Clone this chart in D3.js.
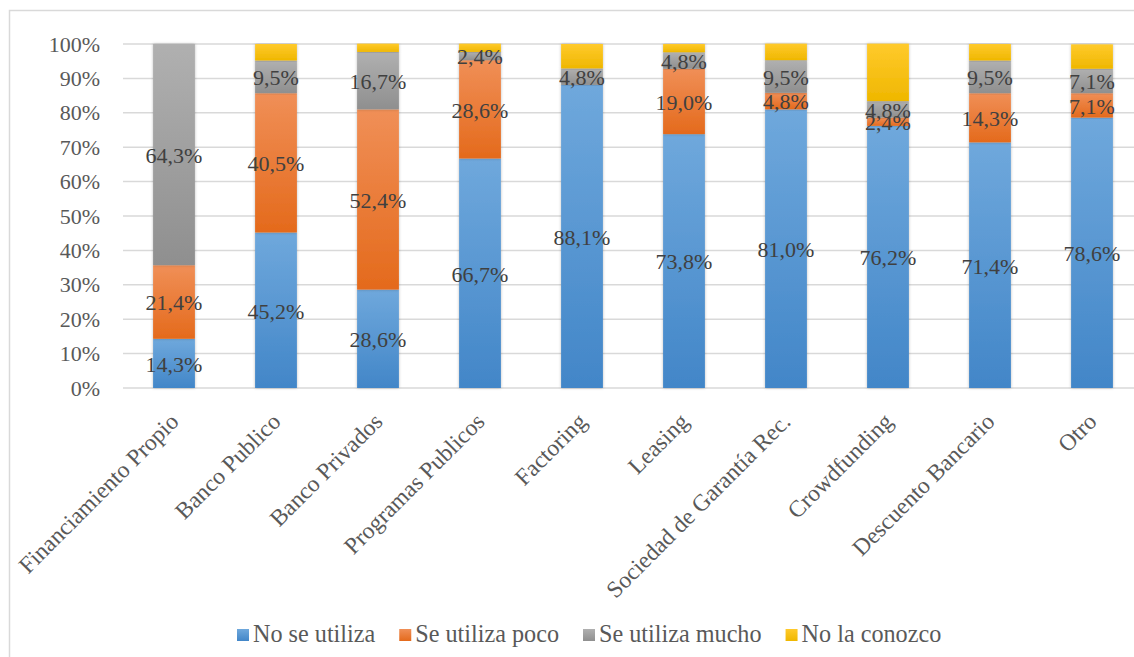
<!DOCTYPE html>
<html>
<head>
<meta charset="utf-8">
<script src="https://cdn.jsdelivr.net/npm/d3@7"></script>
<style>
  body { margin: 0; background: #fff; }
  svg { display: block; font-family: "Liberation Serif", "Times New Roman", serif; }
</style>
</head>
<body>
<div id="chart"></div>
<script>
// categories and series (percentages)
const categories = ['Financiamiento Propio', 'Banco Publico', 'Banco Privados', 'Programas Publicos',
    'Factoring', 'Leasing', 'Sociedad de Garantía Rec.', 'Crowdfunding', 'Descuento Bancario', 'Otro'];
const noSeUtiliza = [14.3, 45.2, 28.6, 66.7, 88.1, 73.8, 81.0, 76.2, 71.4, 78.6];
const seUtilizaPoco = [21.4, 40.5, 52.4, 28.6, 0, 19.0, 4.8, 2.4, 14.3, 7.1];
const seUtilizaMucho = [64.3, 9.5, 16.7, 2.4, 4.8, 4.8, 9.5, 4.8, 9.5, 7.1];
const noLaConozco = [0, 4.8, 2.4, 2.4, 7.1, 2.4, 4.8, 16.7, 4.8, 7.1];
const seriesNames = ['No se utiliza', 'Se utiliza poco', 'Se utiliza mucho', 'No la conozco'];
const yTicks = [0, 10, 20, 30, 40, 50, 60, 70, 80, 90, 100];

const W = 1134, H = 657;
const margin = { left: 123, right: -9, top: 44, bottom: 269 };
const width = W - margin.left - margin.right;
const height = H - margin.top - margin.bottom;

// colours: [top, bottom] of gradient
const colors = [
    ['#6fa8dc', '#4286c8'],
    ['#f08f57', '#e46a1c'],
    ['#b0b0b0', '#8f8f8f'],
    ['#ffca2c', '#efb700']
];
const showLabel = [true, true, true, false];

const table = categories.map((c, i) => ({
    cat: c,
    s0: noSeUtiliza[i], s1: seUtilizaPoco[i], s2: seUtilizaMucho[i], s3: noLaConozco[i]
}));

const svg = d3.select('#chart').append('svg')
    .attr('width', W).attr('height', H);

const defs = svg.append('defs');
colors.forEach((c, i) => {
    const g = defs.append('linearGradient')
        .attr('id', 'grad' + i)
        .attr('x1', 0).attr('y1', 0).attr('x2', 0).attr('y2', 1);
    g.append('stop').attr('offset', '0%').attr('stop-color', c[0]);
    g.append('stop').attr('offset', '100%').attr('stop-color', c[1]);
});
const shadow = defs.append('filter').attr('id', 'shadow')
    .attr('x', '-20%').attr('y', '-5%').attr('width', '140%').attr('height', '110%');
shadow.append('feDropShadow').attr('dx', 0).attr('dy', 0).attr('stdDeviation', 1.5)
    .attr('flood-color', '#000').attr('flood-opacity', 0.25);

// outer frame
svg.append('rect')
    .attr('x', 9.5).attr('y', 10.5)
    .attr('width', 1140).attr('height', 660)
    .attr('fill', 'none').attr('stroke', '#d9d9d9').attr('stroke-width', 1.5);

const g = svg.append('g').attr('transform', `translate(${margin.left},${margin.top})`);

const xScale = d3.scaleBand().domain(categories).range([0, width]).paddingInner(0.59).paddingOuter(0.295);
const yScale = d3.scaleLinear().domain([0, 100]).range([height, 0]);

// gridlines
g.append('g').selectAll('line').data(yTicks).join('line')
    .attr('x1', 0).attr('x2', width)
    .attr('y1', d => yScale(d)).attr('y2', d => yScale(d))
    .attr('stroke', '#d9d9d9').attr('stroke-width', 1.5);

// y axis labels
const yaxis = d3.axisLeft(yScale).tickValues(yTicks).tickSize(0).tickPadding(23)
    .tickFormat(d => d + '%');
g.append('g').call(yaxis)
    .call(a => a.select('.domain').remove())
    .call(a => a.selectAll('text')
        .attr('fill', '#595959')
        .style('font-family', '"Liberation Serif", serif')
        .style('font-size', '22px'));

// stacked bars
const keys = ['s0', 's1', 's2', 's3'];
const stack = d3.stack().keys(keys)(table);

const layers = g.append('g').selectAll('g').data(stack).join('g')
    .attr('fill', (d, i) => `url(#grad${i})`);

layers.selectAll('rect').data(d => d).join('rect')
    .attr('x', d => xScale(d.data.cat))
    .attr('width', xScale.bandwidth())
    .attr('y', d => yScale(d[1]))
    .attr('height', d => yScale(d[0]) - yScale(d[1]))
    .attr('filter', 'url(#shadow)');

// value labels
const fmt = v => v.toFixed(1).replace('.', ',') + '%';
stack.forEach((layer, i) => {
    if (!showLabel[i]) return;
    g.append('g').selectAll('text').data(layer.filter(d => d[1] - d[0] > 0)).join('text')
        .attr('x', d => xScale(d.data.cat) + xScale.bandwidth() / 2)
        .attr('y', d => yScale((d[0] + d[1]) / 2))
        .attr('dy', '0.38em')
        .attr('text-anchor', 'middle')
        .attr('fill', '#404040')
        .style('font-size', '22px')
        .text(d => fmt(d[1] - d[0]));
});

// x axis category labels, rotated
g.append('g').selectAll('text').data(categories).join('text')
    .attr('transform', d => `translate(${xScale(d) + xScale.bandwidth() / 2 + 6},${height + 35}) rotate(-45)`)
    .attr('text-anchor', 'end')
    .attr('fill', '#595959')
    .style('font-size', '23.5px')
    .text(d => d);

// legend
const legend = svg.append('g').attr('transform', 'translate(237,642)');
let lx = 0;
seriesNames.forEach((name, i) => {
    const item = legend.append('g').attr('transform', `translate(${lx},0)`);
    item.append('rect')
        .attr('x', 0).attr('y', -13).attr('width', 12).attr('height', 12)
        .attr('fill', `url(#grad${i})`);
    const t = item.append('text')
        .attr('x', 16)
        .attr('fill', '#595959')
        .style('font-size', '24.2px')
        .text(name);
    lx += 16 + t.node().getComputedTextLength() + 24;
});
</script>
</body>
</html>
